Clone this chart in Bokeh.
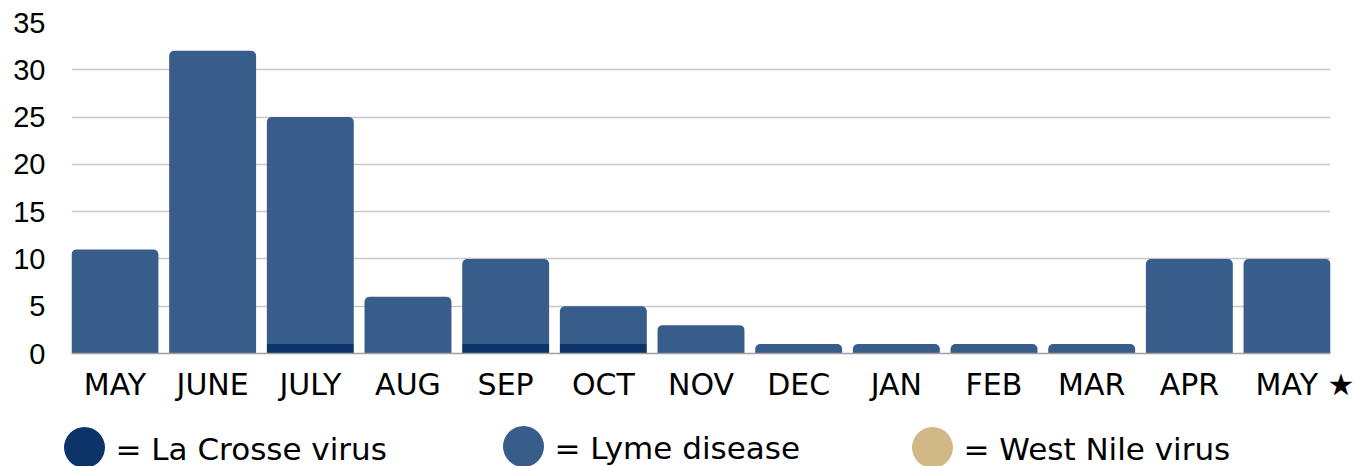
from bokeh.plotting import figure
from bokeh.layouts import column, row
from bokeh.models import ColumnDataSource, FactorRange
from bokeh.core.properties import value
from bokeh.embed import file_html
from bokeh.resources import INLINE

# ---- data ----
months = ["MAY", "JUNE", "JULY", "AUG", "SEP", "OCT", "NOV", "DEC", "JAN", "FEB", "MAR", "APR",
          "\u2003\u2009MAY \u2605"]
la_crosse = [0, 0, 1, 0, 1, 1, 0, 0, 0, 0, 0, 0, 0]
lyme = [11, 32, 24, 6, 9, 4, 3, 1, 1, 1, 1, 10, 10]
west_nile = [0, 0, 0, 0, 0, 0, 0, 0, 0, 0, 0, 0, 0]
y_ticks = [0, 5, 10, 15, 20, 25, 30, 35]
legend_names = ["= La Crosse virus", "= Lyme disease", "= West Nile virus"]

C_LAC = "#0d3468"
C_LYME = "#385d8a"
C_WN = "#d2b787"

W = 1372
H_MAIN = 408
H_LEG = 58
FONT = "DejaVu Sans"

src = ColumnDataSource(dict(month=months, lac=la_crosse, lyme=lyme, wn=west_nile,
                            lyme_top=[a + b for a, b in zip(la_crosse, lyme)]))

xr = FactorRange(*months, range_padding=-0.055, range_padding_units="absolute")
p = figure(x_range=xr, y_range=(0, 35), width=W, height=H_MAIN,
           output_backend="svg", toolbar_location=None,
           min_border_left=71, min_border_right=42, min_border_top=22, min_border_bottom=55)
p.outline_line_color = None

p.vbar(x="month", bottom=0, top="lac", width=0.89, source=src,
       fill_color=C_LAC, line_color=None)
p.vbar(x="month", bottom="lac", top="lyme_top", width=0.89, source=src,
       fill_color=C_LYME, line_color=None, border_radius=(5, 5, 0, 0))

p.xgrid.grid_line_color = None
p.ygrid.grid_line_color = "#c8c8c8"
p.ygrid.grid_line_width = 1.5
p.yaxis.ticker = y_ticks
p.yaxis.axis_line_color = None
p.yaxis.major_tick_line_color = None
p.yaxis.major_tick_out = 0
p.yaxis.major_tick_in = 0
p.yaxis.minor_tick_line_color = None
p.yaxis.major_label_text_font = "Liberation Sans"
p.yaxis.major_label_text_font_size = "29px"
p.yaxis.major_label_text_color = "black"
p.yaxis.major_label_standoff = 26

p.xaxis.axis_line_color = "#a0a0a0"
p.xaxis.axis_line_width = 1.5
p.xaxis.major_tick_line_color = None
p.xaxis.major_tick_out = 0
p.xaxis.major_tick_in = 0
p.xaxis.minor_tick_line_color = None
p.xaxis.major_label_text_font = FONT
p.xaxis.major_label_text_font_size = "30px"
p.xaxis.major_label_text_color = "black"
p.xaxis.major_label_standoff = 13

# legend strip
lg = figure(x_range=(0, W), y_range=(H_LEG, 0), width=W, height=H_LEG,
            output_backend="svg", toolbar_location=None,
            x_axis_location=None, y_axis_location=None,
            min_border=0, min_border_left=0, min_border_right=0, min_border_top=0, min_border_bottom=0)
lg.outline_line_color = None
lg.grid.visible = False
lg_x = [84, 523, 932]
lg_y = [39, 38, 39]
lg.scatter(x=lg_x, y=lg_y, size=41, marker="circle", fill_color=[C_LAC, C_LYME, C_WN], line_color=None)
lg.text(x=[x + 31 for x in lg_x], y=[y + 1 for y in lg_y], text=legend_names, text_font=value(FONT),
        text_font_size="31px", text_baseline="middle", text_color="black")

layout = column(p, row(lg), spacing=0)
open("out.html", "w").write(file_html(layout, INLINE))
